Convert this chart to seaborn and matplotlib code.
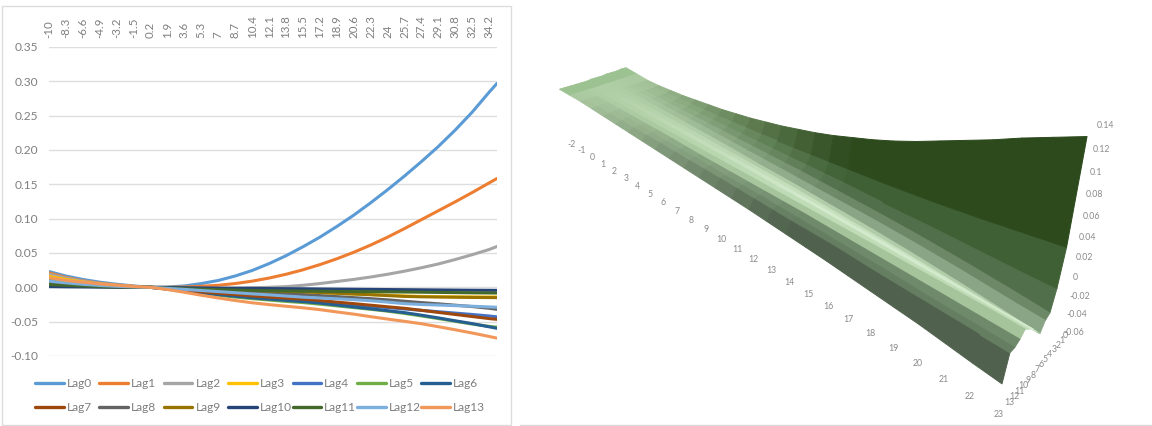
import numpy as np
import pandas as pd
import matplotlib
matplotlib.use("Agg")
import matplotlib.pyplot as plt
import seaborn as sns
from matplotlib.colors import to_rgba
from matplotlib.lines import Line2D
from matplotlib.patches import Rectangle

# ---- response curves by lag -------------------------------------------------
temperature = [-10, -8.3, -6.6, -4.9, -3.2, -1.5, 0.2, 1.9, 3.6, 5.3, 7, 8.7, 10.4, 12.1,
               13.8, 15.5, 17.2, 18.9, 20.6, 22.3, 24, 25.7, 27.4, 29.1, 30.8, 32.5, 34.2, 35]
tick_values = temperature[:-1]
tick_labels = ["-10", "-8.3", "-6.6", "-4.9", "-3.2", "-1.5", "0.2", "1.9", "3.6", "5.3", "7", "8.7",
               "10.4", "12.1", "13.8", "15.5", "17.2", "18.9", "20.6", "22.3", "24", "25.7", "27.4",
               "29.1", "30.8", "32.5", "34.2"]

lag0 = [.023, .0165, .0115, .0075, .0045, .002, 0, .0005, .002, .0055, .010, .0165, .0245, .0345,
        .0460, .0590, .073, .0885, .105, .123, .142, .162, .183, .205, .229, .255, .284, .297]
lag1 = [.021, .0145, .0095, .006, .0035, .0015, 0, 0, .0005, .0015, .003, .0055, .009, .0135,
        .019, .0255, .033, .0415, .051, .0615, .073, .0855, .0985, .1115, .1245, .138, .152, .1585]
lag2 = [.019, .0135, .009, .0055, .003, .0012, 0, -.0005, -.001, -.0012, -.0012, -.001, -.0005, 0,
        .001, .003, .0055, .0085, .0115, .015, .019, .0235, .0285, .034, .0405, .0475, .055, .0595]
lag3 = [.016, .0115, .0078, .0048, .0026, .001, 0, -.0009, -.0018, -.0027, -.0035, -.0043, -.005, -.0055,
        -.006, -.0065, -.0075, -.0085, -.0095, -.0105, -.0115, -.0125, -.0132, -.0136, -.0138, -.0139, -.014, -.014]
lag4 = [.012, .0087, .0059, .0036, .002, .0008, 0, -.0025, -.005, -.0075, -.01, -.0122, -.0142, -.016,
        -.018, -.0198, -.0218, -.0235, -.0255, -.0275, -.0295, -.0315, -.0335, -.0355, -.0375, -.0395, -.0417, -.043]
lag5 = [.010, .0072, .0049, .003, .0017, .0006, 0, -.0027, -.0055, -.0085, -.0115, -.0142, -.0165, -.0185,
        -.0205, -.0222, -.0245, -.027, -.0295, -.032, -.0347, -.038, -.0417, -.0455, -.0495, -.0535, -.0568, -.058]
lag6 = [.008, .0058, .0039, .0024, .0013, .0005, 0, -.0024, -.005, -.0078, -.0105, -.013, -.0153, -.0172,
        -.019, -.0208, -.023, -.0257, -.0285, -.0312, -.034, -.0368, -.0405, -.0445, -.0487, -.0528, -.0575, -.0597]
lag7 = [.006, .0043, .0029, .0018, .001, .0004, 0, -.002, -.0041, -.0063, -.0085, -.0105, -.0125, -.0142,
        -.0157, -.0172, -.0192, -.0215, -.0237, -.026, -.0283, -.0305, -.0335, -.0365, -.0395, -.0425, -.0455, -.0466]
lag8 = [.005, .0036, .0024, .0015, .0008, .0003, 0, -.0011, -.0023, -.0035, -.0048, -.006, -.0072, -.0082,
        -.0093, -.0105, -.012, -.0135, -.015, -.0165, -.0182, -.0202, -.0222, -.024, -.026, -.028, -.0305, -.032]
lag9 = [.003, .0022, .0015, .0009, .0005, .0002, 0, -.0008, -.0016, -.0024, -.0032, -.004, -.0047, -.0053,
        -.0058, -.0063, -.0075, -.0087, -.0098, -.0108, -.012, -.0132, -.0138, -.0141, -.0144, -.0147, -.0149, -.015]
lag10 = [.001, .0007, .0005, .0003, .0002, .0001, 0, -.0003, -.0006, -.0009, -.0012, -.0014, -.0016, -.0018,
         -.002, -.0021, -.0024, -.0026, -.0028, -.003, -.0032, -.0034, -.0036, -.0038, -.004, -.0042, -.0043, -.0044]
lag11 = [.004, .0029, .002, .0012, .0007, .0002, 0, -.001, -.0019, -.0027, -.0034, -.004, -.0045, -.0049,
         -.0052, -.0054, -.0057, -.006, -.0062, -.0064, -.0066, -.0068, -.0071, -.0074, -.0077, -.008, -.0082, -.0083]
lag12 = [.009, .0065, .0044, .0027, .0015, .0006, 0, -.0015, -.003, -.0046, -.0062, -.0078, -.0095, -.011,
         -.0127, -.0143, -.0155, -.0167, -.018, -.0195, -.0215, -.0238, -.025, -.0258, -.0267, -.0275, -.0285, -.029]
lag13 = [.014, .010, .0075, .005, .003, .0013, 0, -.0032, -.0072, -.0115, -.0155, -.0192, -.0225, -.0252,
         -.0275, -.0298, -.0325, -.0358, -.039, -.0427, -.0462, -.0495, -.053, -.0573, -.0618, -.0665, -.0715, -.074]
lag_series = [lag0, lag1, lag2, lag3, lag4, lag5, lag6, lag7, lag8, lag9, lag10, lag11, lag12, lag13]
lag_names = [f"Lag{i}" for i in range(14)]
lag_colors = ["#5B9BD5", "#ED7D31", "#A5A5A5", "#FFC000", "#4472C4", "#70AD47", "#255E91",
              "#9E480E", "#636363", "#997300", "#264478", "#43682B", "#7CAFDD", "#F1975A"]

# ---- response surface: one row per lag, one column per degree from -2 to 23 --
surface_temps = list(range(-2, 24))
surface_lags = list(range(14))
surface_lag0 = [.004, .002, .000, .000, .001, .002, .004, .006, .008, .011, .014, .018, .022, .027, .032,
                .038, .045, .052, .060, .069, .079, .089, .099, .110, .120, .130]
surface_lag1 = [.004, .002, .000, .000, .000, .0005, .001, .0015, .002, .003, .004, .005, .006, .0075, .009,
                .0105, .012, .0135, .015, .017, .019, .0215, .024, .027, .030, .033]
surface_lag2 = [.003, .0015, 0, -.0005, -.001, -.001, -.001, -.001, -.001, -.001, -.001, -.001, -.001, -.001, -.001,
                -.001, -.001, -.0015, -.002, -.002, -.002, -.0025, -.003, -.0035, -.004, -.004]
surface_lag3 = [.003, .0015, 0, -.0005, -.001, -.0015, -.002, -.0025, -.003, -.0035, -.004, -.0045, -.005, -.0055, -.006,
                -.007, -.008, -.009, -.010, -.0115, -.013, -.015, -.017, -.0195, -.022, -.025]
surface_lag4 = [.003, .0015, 0, -.0005, -.001, -.002, -.003, -.0035, -.004, -.005, -.006, -.007, -.008, -.009, -.010,
                -.011, -.012, -.013, -.014, -.0155, -.017, -.019, -.021, -.0235, -.026, -.028]
surface_lag5 = [.002, .001, 0, -.001, -.002, -.003, -.004, -.005, -.006, -.007, -.008, -.0095, -.011, -.012, -.013,
                -.0145, -.016, -.0175, -.019, -.021, -.023, -.0255, -.028, -.031, -.034, -.037]
surface_lag6 = [.002, .001, 0, -.001, -.002, -.003, -.004, -.0045, -.005, -.006, -.007, -.008, -.009, -.010, -.011,
                -.0125, -.014, -.0155, -.017, -.0185, -.020, -.022, -.024, -.026, -.028, -.030]
surface_lag7 = [.002, .001, 0, -.001, -.002, -.0025, -.003, -.0035, -.004, -.005, -.006, -.0065, -.007, -.008, -.009,
                -.010, -.011, -.012, -.013, -.014, -.015, -.0165, -.018, -.0195, -.021, -.022]
surface_lag8 = [.001, .0005, 0, -.0005, -.001, -.0015, -.002, -.0025, -.003, -.0035, -.004, -.0045, -.005, -.006, -.007,
                -.0075, -.008, -.009, -.010, -.011, -.012, -.013, -.014, -.015, -.016, -.017]
surface_lag9 = [.001, .0005, 0, -.0005, -.001, -.0015, -.002, -.0025, -.003, -.0035, -.004, -.0045, -.005, -.0055, -.006,
                -.0065, -.007, -.0075, -.008, -.0085, -.009, -.0095, -.010, -.0105, -.011, -.012]
surface_lag10 = [.001, .0005, 0, -.0005, -.001, -.0015, -.002, -.0025, -.003, -.004, -.005, -.0055, -.006, -.0065, -.007,
                 -.0075, -.008, -.009, -.010, -.011, -.012, -.013, -.014, -.015, -.016, -.017]
surface_lag11 = [.001, .0005, 0, -.0005, -.001, -.0015, -.002, -.003, -.004, -.0045, -.005, -.006, -.007, -.0075, -.008,
                 -.009, -.010, -.011, -.012, -.013, -.014, -.0155, -.017, -.018, -.019, -.020]
surface_lag12 = [.001, .0005, 0, -.001, -.002, -.0025, -.003, -.0035, -.004, -.005, -.006, -.0065, -.007, -.008, -.009,
                 -.010, -.011, -.0115, -.012, -.0135, -.015, -.016, -.017, -.018, -.019, -.020]
surface_lag13 = [.001, .0005, 0, -.0015, -.003, -.0045, -.006, -.0075, -.009, -.0105, -.012, -.0135, -.015, -.0165, -.018,
                 -.020, -.022, -.024, -.026, -.0285, -.031, -.0335, -.036, -.0395, -.043, -.046]
surface_rows = [surface_lag0, surface_lag1, surface_lag2, surface_lag3, surface_lag4, surface_lag5, surface_lag6,
                surface_lag7, surface_lag8, surface_lag9, surface_lag10, surface_lag11, surface_lag12, surface_lag13]
strip_colors = ["#2c4a1c", "#3f5f34", "#516f4a", "#6c8867", "#8aa586", "#b0cca8", "#c6e0be",
                "#d3eacc", "#bfdcb6", "#a5c49c", "#6f8a6b", "#657d61", "#50624d"]
cold_color = "#aecda4"
edge_cold_color = "#9cc291"
z_ticks = [-0.06, -0.04, -0.02, 0, 0.02, 0.04, 0.06, 0.08, 0.1, 0.12, 0.14]
temp_ticks = surface_temps

# Camera calibration: where known axis locations (temperature, lag, z) sit on the canvas.
camera_world = [(-2, 13, -.06), (10, 13, -.06), (17, 13, -.06), (23, 13, -.06), (23, 0, -.06),
                (23, 0, .14), (23, 0, 0), (23, 0, .13), (-2, 13, .001), (-2, 0, .004), (23, 13, -.046)]
camera_canvas = [(570, 132), (718, 225), (846, 305), (1001, 397), (1058, 331),
                 (1089, 124), (1066, 275), (1087, 138), (560, 88), (625, 68), (1003, 383)]

W, H = 1152, 426
sns.set_theme(style="white")
plt.rcParams["font.family"] = ["Lato", "DejaVu Sans"]
GREY = "#7f7f7f"
fig = plt.figure(figsize=(W / 100, H / 100), dpi=100, facecolor="white")

# Outer frame of the line chart and the rule along the bottom of the surface chart
fig.add_artist(Rectangle((1.5 / W, 1 - 424.5 / H), 509.5 / W, 418.5 / H, transform=fig.transFigure,
                         fill=False, edgecolor="#dcdcdc", linewidth=1.0))
fig.add_artist(Line2D([520 / W, 1], [1 - 425 / H] * 2, transform=fig.transFigure, color="#d8d8d8", linewidth=1.0))

# ---- line chart -------------------------------------------------------------
ax = fig.add_axes([49 / W, 1 - 356 / H, 448 / W, 309 / H], facecolor="none")
frame = pd.DataFrame({
    "temperature": np.tile(temperature, len(lag_names)),
    "value": np.concatenate(lag_series),
    "lag": np.repeat(lag_names, len(temperature)),
})
sns.lineplot(data=frame, x="temperature", y="value", hue="lag", hue_order=lag_names,
             palette=lag_colors, linewidth=2.2, estimator=None, legend=False, ax=ax)
ax.set(xlim=(-10, 35), ylim=(-0.10, 0.35), xlabel="", ylabel="")
ax.set_yticks(np.arange(-0.10, 0.351, 0.05))
ax.set_yticklabels([f"{v:.2f}" for v in np.arange(-0.10, 0.351, 0.05)])
ax.xaxis.tick_top()
ax.set_xticks(tick_values)
ax.set_xticklabels(tick_labels, rotation=90, ha="center", va="bottom")
ax.tick_params(axis="x", length=0, pad=6.5, labelsize=8.3, labelcolor=GREY)
ax.tick_params(axis="y", length=0, pad=8, labelsize=8.6, labelcolor=GREY)
ax.yaxis.grid(True, color="#dedede", linewidth=1.0)
ax.xaxis.grid(False)
ax.set_axisbelow(True)
sns.despine(ax=ax, left=True, bottom=True, top=True, right=True)

# One small legend per column keeps the entries evenly spaced
for col in range(7):
    handles = [Line2D([], [], color=lag_colors[i], linewidth=2.4) for i in (col, col + 7)]
    fig.legend(handles, [lag_names[col], lag_names[col + 7]], loc="upper left",
               bbox_to_anchor=((35 + 64.4 * col) / W, 1 - 378 / H), frameon=False, fontsize=8.6,
               labelcolor=GREY, handlelength=2.4, handletextpad=0.25, borderpad=0,
               borderaxespad=0, labelspacing=1.13)


# ---- surface chart ----------------------------------------------------------
def solve_camera(world, canvas):
    """Direct linear transform from axis coordinates to canvas pixels."""
    world = np.asarray(world, float)
    canvas = np.asarray(canvas, float)
    scale_w = np.array([[1 / 12, 0, 0, -10 / 12], [0, 1 / 6.5, 0, -1],
                        [0, 0, 10, -0.4], [0, 0, 0, 1]])
    scale_c = np.array([[250, 0, 800], [0, 150, 230], [0, 0, 1]], float)
    homog = np.c_[world, np.ones(len(world))] @ scale_w.T
    uv = (canvas - [800, 230]) / [250, 150]
    rows = []
    for p, (u, v) in zip(homog, uv):
        rows.append(np.r_[p, 0, 0, 0, 0, -u * p])
        rows.append(np.r_[0, 0, 0, 0, p, -v * p])
    P = np.linalg.svd(np.asarray(rows))[2][-1].reshape(3, 4)
    P = scale_c @ P @ scale_w
    if (P[2] @ np.r_[world[0], 1]) < 0:
        P = -P
    return P


P = solve_camera(camera_world, camera_canvas)
# Rows give canvas x, canvas y, a depth value growing away from the viewer, and w
camera_matrix = np.vstack([P[0], P[1], [0, 0, 0, -1], P[2]])


def to_canvas(t, lag, z):
    u, v, w = P @ np.array([t, lag, z, 1.0])
    return u / w, v / w


ax3 = fig.add_axes([520 / W, 0, 632 / W, 1], projection="3d", computed_zorder=False, facecolor="none")
ax3.set_axis_off()
ax3.get_proj = lambda: camera_matrix
ax3.apply_aspect = lambda position=None: None

tt, ll = np.meshgrid(surface_temps, surface_lags)
zz = np.asarray(surface_rows)
face = np.zeros((zz.shape[0] - 1, zz.shape[1] - 1, 4))
mid_temp = (np.asarray(surface_temps[:-1]) + np.asarray(surface_temps[1:])) / 2
cold = np.array(to_rgba(cold_color))
edge_cold = np.array(to_rgba(edge_cold_color))
for r, strip in enumerate(strip_colors):
    warm = np.array(to_rgba(strip))
    for c, t in enumerate(mid_temp):
        # Strips fade into one flat tone towards the cold end of the surface
        w = np.clip((t + 1) / 15, 0, 1)
        face[r, c] = edge_cold if t < -1 else cold + (warm - cold) * w
ax3.plot_surface(tt, ll, zz, facecolors=face, rstride=1, cstride=1, shade=False,
                 linewidth=0.7, antialiased=True, zorder=1)

# Dotted reference lines of the floor and of the zero plane
ax3.plot(temp_ticks, [13] * len(temp_ticks), [-0.06] * len(temp_ticks), linestyle="none", marker="|",
         markersize=1.5, markeredgewidth=0.8, color="#e2e2e2", zorder=0.5)
ax3.plot(temp_ticks, [13] * len(temp_ticks), [0] * len(temp_ticks), linestyle="none", marker="|",
         markersize=3, markeredgewidth=0.8, color="#e4e9e2", zorder=3)
ax3.plot([23] * len(surface_lags), surface_lags, [0] * len(surface_lags), linestyle="none", marker="|",
         markersize=2.2, markeredgewidth=0.8, color="#e4e9e2", zorder=3)

# The 2D limits are the canvas pixels that the camera matrix maps onto
ax3.viewLim.intervalx = (520, W)
ax3.viewLim.intervaly = (H, 0)

# Tick labels sit on a flat overlay sharing the same pixel limits
labels_ax = fig.add_axes([520 / W, 0, 632 / W, 1], facecolor="none")
labels_ax.set(xlim=(520, W), ylim=(H, 0))
labels_ax.set_axis_off()
TICK_KW = dict(color="#8a8a8a", fontsize=6.3)
for t in temp_ticks:
    labels_ax.text(*to_canvas(t, 13, -0.079), str(t), ha="center", va="center", **TICK_KW)
for lag in surface_lags:
    labels_ax.text(*to_canvas(23.3, lag, -0.06), str(lag), ha="center", va="center", **TICK_KW)
for z in z_ticks:
    labels_ax.text(*to_canvas(23.2, -0.3, z), f"{z:g}", ha="left", va="center", **TICK_KW)

fig.savefig("out.png", dpi=100, facecolor="white")
